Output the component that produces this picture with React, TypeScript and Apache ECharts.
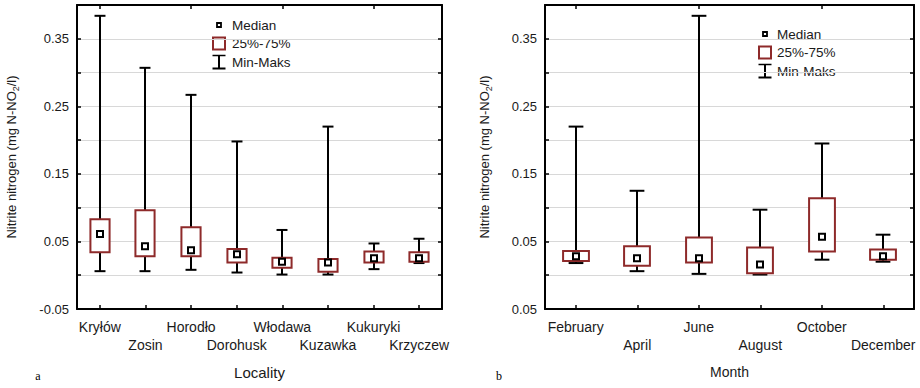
import React, { useEffect, useRef } from "react";
import * as echarts from "echarts";

// ---------- data ----------
const localities = ["Kryłów", "Zosin", "Horodło", "Dorohusk", "Włodawa", "Kuzawka", "Kukuryki", "Krzyczew"];
const locMin = [0.006, 0.006, 0.008, 0.004, 0.001, 0.001, 0.009, 0.018];
const locQ1 = [0.034, 0.028, 0.028, 0.019, 0.011, 0.005, 0.019, 0.020];
const locMedian = [0.061, 0.043, 0.037, 0.031, 0.020, 0.019, 0.025, 0.025];
const locQ3 = [0.083, 0.096, 0.071, 0.039, 0.026, 0.024, 0.035, 0.034];
const locMax = [0.384, 0.307, 0.267, 0.198, 0.067, 0.220, 0.047, 0.054];

const months = ["February", "April", "June", "August", "October", "December"];
const monMin = [0.018, 0.006, 0.002, 0.001, 0.023, 0.020];
const monQ1 = [0.021, 0.014, 0.019, 0.003, 0.035, 0.023];
const monMedian = [0.028, 0.025, 0.025, 0.016, 0.057, 0.028];
const monQ3 = [0.036, 0.043, 0.056, 0.041, 0.114, 0.038];
const monMax = [0.220, 0.125, 0.384, 0.097, 0.195, 0.060];

const yMin = -0.05;
const yMax = 0.4;
const yStep = 0.05;
const yTickValues = [-0.05, 0.05, 0.15, 0.25, 0.35];
const leftYTickLabels = ["-0.05", "0.05", "0.15", "0.25", "0.35"];
const rightYTickLabels = ["0.05", "0.05", "0.15", "0.25", "0.35"];

const legendLabels = ["Median", "25%-75%", "Min-Maks"];
const yAxisTitle = "{a|Nitrite nitrogen (mg N-NO}{s|2}{a|/l)}";
const xTitles = ["Locality", "Month"];
const panelLetters = ["a", "b"];

// ---------- styles ----------
const FONT = "'Liberation Sans', Arial, sans-serif";
const RED = "#8e2a2a";
const TEXT = "#1a1a1a";

function renderBox(params: any, api: any) {
  const x = api.value(0);
  const lo = api.coord([x, api.value(1)]);
  const q1 = api.coord([x, api.value(2)]);
  const md = api.coord([x, api.value(3)]);
  const q3 = api.coord([x, api.value(4)]);
  const hi = api.coord([x, api.value(5)]);
  const band = api.size([1, 0])[0];
  const bw = band * 0.42;
  const cw = band * 0.24;
  const cx = Math.round(md[0]);
  const line = { stroke: "#000", lineWidth: 2 };
  return {
    type: "group",
    children: [
      { type: "line", shape: { x1: cx, y1: hi[1], x2: cx, y2: lo[1] }, style: line },
      { type: "line", shape: { x1: cx - cw / 2, y1: hi[1], x2: cx + cw / 2, y2: hi[1] }, style: line },
      { type: "line", shape: { x1: cx - cw / 2, y1: lo[1], x2: cx + cw / 2, y2: lo[1] }, style: line },
      {
        type: "rect",
        shape: { x: cx - bw / 2, y: q3[1], width: bw, height: q1[1] - q3[1] },
        style: { fill: "#fff", stroke: RED, lineWidth: 2 },
      },
      {
        type: "rect",
        shape: { x: cx - 3, y: md[1] - 3, width: 6, height: 6 },
        style: { fill: "#fff", stroke: "#000", lineWidth: 2 },
      },
    ],
  };
}

function yLabelFormatter(labels: string[]) {
  return (v: number) => {
    const i = yTickValues.findIndex((t) => Math.abs(t - v) < 1e-6);
    return i >= 0 ? labels[i] : "";
  };
}

function xAxes(cats: string[], gridIndex: number, name: string, nameSize: number) {
  return [
    {
      type: "category",
      gridIndex,
      position: "bottom",
      data: cats,
      boundaryGap: true,
      name,
      nameLocation: "middle",
      nameGap: 56,
      nameTextStyle: { color: TEXT, fontFamily: FONT, fontSize: nameSize },
      axisLine: { show: true, onZero: false, lineStyle: { color: "#000", width: 2 } },
      axisTick: { show: true, inside: true, length: 4, alignWithLabel: true, lineStyle: { color: "#000", width: 1.5 } },
      axisLabel: {
        interval: 0,
        hideOverlap: false,
        color: TEXT,
        fontFamily: FONT,
        fontSize: 14,
        lineHeight: 18,
        margin: 9,
        formatter: (v: string, i: number) => (i % 2 ? "\n" + v : v),
      },
      splitLine: { show: false },
    },
    {
      type: "category",
      gridIndex,
      position: "top",
      data: cats,
      boundaryGap: true,
      axisLine: { show: true, onZero: false, lineStyle: { color: "#000", width: 2 } },
      axisTick: { show: true, inside: true, length: 4, alignWithLabel: true, lineStyle: { color: "#000", width: 1.5 } },
      axisLabel: { show: false },
      splitLine: { show: false },
    },
  ];
}

function yAxes(gridIndex: number, labels: string[], nameGap: number) {
  return [
    {
      type: "value",
      gridIndex,
      position: "left",
      min: yMin,
      max: yMax,
      interval: yStep,
      name: yAxisTitle,
      nameLocation: "middle",
      nameRotate: 90,
      nameGap,
      nameTextStyle: {
        rich: {
          a: { fontFamily: FONT, fontSize: 13, color: TEXT, lineHeight: 18, verticalAlign: "middle" },
          s: { fontFamily: FONT, fontSize: 9, color: TEXT, lineHeight: 9, verticalAlign: "bottom" },
        },
      },
      axisLine: { show: true, onZero: false, lineStyle: { color: "#000", width: 2 } },
      axisTick: { show: true, inside: true, length: 4, lineStyle: { color: "#000", width: 1.5 } },
      axisLabel: {
        color: TEXT,
        fontFamily: FONT,
        fontSize: 13,
        margin: 8,
        showMinLabel: true,
        showMaxLabel: true,
        formatter: yLabelFormatter(labels),
      },
      splitLine: { show: true, lineStyle: { color: "#d8d8d8", width: 1 } },
    },
    {
      type: "value",
      gridIndex,
      position: "right",
      min: yMin,
      max: yMax,
      interval: yStep,
      axisLine: { show: true, onZero: false, lineStyle: { color: "#000", width: 2 } },
      axisTick: { show: true, inside: true, length: 4, lineStyle: { color: "#000", width: 1.5 } },
      axisLabel: { show: false },
      splitLine: { show: false },
    },
  ];
}

function legendGraphics(left: number, top: number, textX: number) {
  // left: centre x of the symbols, top: centre y of the first row
  const rows = [top, top + 18.5, top + 37];
  const t = (y: number, s: string) => ({
    type: "text",
    x: textX,
    y,
    style: { text: s, fontFamily: FONT, fontSize: 13.5, fill: TEXT, verticalAlign: "middle", align: "left" },
  });
  return [
    {
      type: "rect",
      shape: { x: left - 2, y: rows[0] - 2, width: 4, height: 4 },
      style: { fill: "#fff", stroke: "#000", lineWidth: 1.8 },
    },
    t(rows[0], legendLabels[0]),
    {
      type: "rect",
      shape: { x: left - 6, y: rows[1] - 6, width: 12, height: 12 },
      style: { fill: "#fff", stroke: RED, lineWidth: 2 },
    },
    t(rows[1], legendLabels[1]),
    { type: "line", shape: { x1: left, y1: rows[2] - 6.5, x2: left, y2: rows[2] + 6.5 }, style: { stroke: "#000", lineWidth: 2 } },
    { type: "line", shape: { x1: left - 6.5, y1: rows[2] - 6.5, x2: left + 6.5, y2: rows[2] - 6.5 }, style: { stroke: "#000", lineWidth: 1.5 } },
    { type: "line", shape: { x1: left - 6.5, y1: rows[2] + 6.5, x2: left + 6.5, y2: rows[2] + 6.5 }, style: { stroke: "#000", lineWidth: 2 } },
    t(rows[2], legendLabels[2]),
  ];
}

export default function App() {
  const ref = useRef<HTMLDivElement>(null);

  useEffect(() => {
    document.body.style.margin = "0";
    if (!ref.current) return;
    const chart = echarts.init(ref.current, undefined, { renderer: "svg" });

    const locData = localities.map((_, i) => [i, locMin[i], locQ1[i], locMedian[i], locQ3[i], locMax[i]]);
    const monData = months.map((_, i) => [i, monMin[i], monQ1[i], monMedian[i], monQ3[i], monMax[i]]);

    chart.setOption({
      animation: false,
      backgroundColor: "#fff",
      grid: [
        { left: 77, right: 478, top: 5, bottom: 79, containLabel: false },
        { left: 545, right: 6, top: 5, bottom: 79, containLabel: false },
      ],
      xAxis: [...xAxes(localities, 0, xTitles[0], 15), ...xAxes(months, 1, xTitles[1], 14)],
      yAxis: [...yAxes(0, leftYTickLabels, 57), ...yAxes(1, rightYTickLabels, 52)],
      series: [
        {
          type: "custom",
          xAxisIndex: 0,
          yAxisIndex: 0,
          renderItem: renderBox,
          encode: { x: 0, y: [1, 2, 3, 4, 5] },
          data: locData,
          z: 5,
        },
        {
          type: "custom",
          xAxisIndex: 2,
          yAxisIndex: 2,
          renderItem: renderBox,
          encode: { x: 0, y: [1, 2, 3, 4, 5] },
          data: monData,
          z: 5,
        },
      ],
      graphic: [
        ...legendGraphics(219, 25, 232),
        ...legendGraphics(765, 34, 777),
        {
          type: "text",
          x: 38,
          y: 382,
          style: { text: panelLetters[0], fontFamily: "'Liberation Serif', 'Times New Roman', serif", fontSize: 12, fill: "#000", align: "center", verticalAlign: "bottom" },
        },
        {
          type: "text",
          x: 499,
          y: 382,
          style: { text: panelLetters[1], fontFamily: "'Liberation Serif', 'Times New Roman', serif", fontSize: 12, fill: "#000", align: "center", verticalAlign: "bottom" },
        },
      ],
    });

    return () => chart.dispose();
  }, []);

  return <div ref={ref} style={{ width: 920, height: 388, position: "absolute", left: 0, top: 0 }} />;
}
